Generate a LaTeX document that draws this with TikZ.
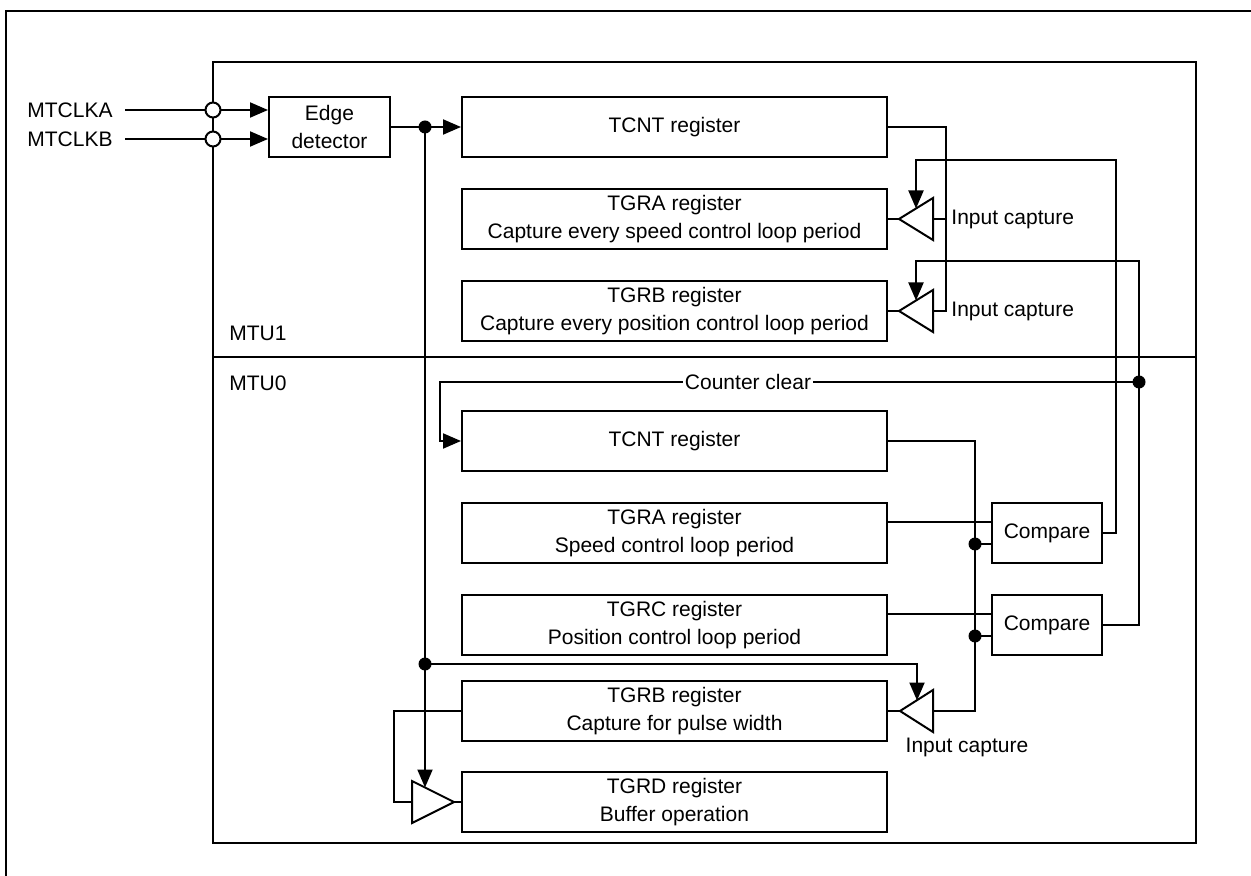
\documentclass[tikz,border=0pt]{standalone}
\usepackage{fontspec}
\setmainfont{Liberation Sans}
\usetikzlibrary{arrows.meta}
\usetikzlibrary{positioning}

\tikzset{
  sig/.style={line width=1pt},
  arr/.style={sig, -{Triangle[length=9pt,width=7.5pt]}},
  reg/.style={draw, sig, minimum width=212.5pt, minimum height=30pt, inner sep=0pt, align=center},
  cmp/.style={reg, minimum width=55pt},
  jdot/.style={circle, fill, inner sep=0pt, minimum size=6.5pt},
  port/.style={circle, draw, sig, fill=white, inner sep=0pt, minimum size=7.5pt},
  lbl/.style={inner sep=0pt},
  amp/.pic={\draw[sig] (0,0) -- (#1,-21) -- (#1,21) -- cycle;}
}

\begin{document}
\begin{tikzpicture}[x=0.5pt, y=-0.5pt, font=\fontsize{10.5pt}{14pt}\selectfont]
  \useasboundingbox (0,0) rectangle (1251,876);
  \draw[line width=1.3pt] (1251,11) -- (6,11) -- (6,876);
  \draw[sig] (213,62) rectangle (1196,843);
  \draw[sig] (213,357) -- (1196,357);
  \node (mtu1) [lbl, anchor=west] at (229,333) {MTU1};
  \node (mtu0) [lbl, anchor=west] at (229,383) {MTU0};

  \node (clka) [lbl, inner xsep=6pt, anchor=east] at (125,110) {MTCLKA};
  \node (clkb) [lbl, inner xsep=6pt, anchor=east] at (125,139) {MTCLKB};
  \node (edge) [reg, minimum width=60.5pt] at (329.5,127) {Edge\\detector};

  % MTU1
  \node (tcnt1) [reg] at (674.5,127) {TCNT register};
  \node (tgra1) [reg] at (674.5,219) {TGRA register\\Capture every speed control loop period};
  \node (tgrb1) [reg] at (674.5,311) {TGRB register\\Capture every position control loop period};

  % MTU0
  \node (tcnt0) [reg] at (674.5,441) {TCNT register};
  \node (tgra0) [reg] at (674.5,533) {TGRA register\\Speed control loop period};
  \node (tgrc0) [reg] at (674.5,625) {TGRC register\\Position control loop period};
  \node (tgrb0) [reg] at (674.5,711) {TGRB register\\Capture for pulse width};
  \node (tgrd0) [reg] at (674.5,802) {TGRD register\\Buffer operation};
  \node (cmpa) [cmp] at (1047,533) {Compare};
  \node (cmpc) [cmp] at (1047,625) {Compare};

  \coordinate (t1tip) at (899,219);  \coordinate (t1base) at (933,219);  \coordinate (t1top) at (916,208.5);
  \coordinate (t2tip) at (899,311);  \coordinate (t2base) at (933,311);  \coordinate (t2top) at (916,300.5);
  \coordinate (t3tip) at (900,711);  \coordinate (t3base) at (933,711);  \coordinate (t3top) at (917,700.5);
  \coordinate (t4base) at (412,802); \coordinate (t4tip) at (454,802);   \coordinate (t4top) at (425,787.5);
  \pic at (t1tip) {amp=34};
  \pic at (t2tip) {amp=34};
  \pic at (t3tip) {amp=33};
  \pic[xscale=-1] at (t4tip) {amp=42};

  \coordinate (j1) at (425,127);
  \coordinate (j2) at (425,664);
  \coordinate (j3) at (1139,382);
  \coordinate (bus1) at (946,311);
  \coordinate (bus0) at (975,711);
  \coordinate (fba) at (1116,160);
  \coordinate (fbc) at (1139,261);
  \coordinate (clr) at (440,382);
  \coordinate (fbb) at (394,711);
  \coordinate (j4) at ([yshift=-5.5pt]cmpa.west -| bus0);
  \coordinate (j5) at ([yshift=-5.5pt]cmpc.west -| bus0);

  % clock inputs
  \draw[arr] (clka.east) -- (clka.east -| edge.west);
  \draw[arr] (clkb.east) -- (clkb.east -| edge.west);
  \draw[arr] (edge) -- (tcnt1);
  \draw[arr] (j1) -- (t4top);
  \draw[arr] (j2) -| (t3top);

  % MTU1 input capture
  \draw[sig] (tcnt1.east) -| (bus1) -- (t2base);
  \draw[sig] (t1base) -- (t1base -| bus1);
  \draw[sig] (tgra1) -- (t1tip);
  \draw[sig] (tgrb1) -- (t2tip);
  \node (icap1) [lbl, anchor=west] at (951,219) {Input capture};
  \node (icap2) [lbl, anchor=west] at (951,311) {Input capture};

  % compare match back to MTU1
  \draw[arr] (cmpa.east) -| (fba) -| (t1top);
  \draw[arr] (cmpc.east) -| (fbc) -| (t2top);
  \draw[arr] (j3) -- (clr) |- (tcnt0.west);
  \node (clrlbl) [lbl, fill=white, inner xsep=1pt] at (748,382) {Counter clear};

  % MTU0
  \draw[sig] (tcnt0.east) -| (bus0) -- (t3base);
  \draw[sig] (j4) -- (j4 -| cmpa.west);
  \draw[sig] (j5) -- (j5 -| cmpc.west);
  \draw[sig] ([yshift=5.5pt]tgra0.east) -- ([yshift=5.5pt]cmpa.west);
  \draw[sig] ([yshift=5.5pt]tgrc0.east) -- ([yshift=5.5pt]cmpc.west);
  \draw[sig] (tgrb0) -- (t3tip);
  \node (icap3) [lbl] at (967,747) {Input capture};
  \draw[sig] (tgrb0.west) -- (fbb) |- (t4base);
  \draw[sig] (t4tip) -- (tgrd0.west);

  \foreach \j in {j1,j2,j3,j4,j5}
    \node[jdot] at (\j) {};
  \node (pa) [port] at (213,110) {};
  \node (pb) [port] at (213,139) {};
\end{tikzpicture}
\end{document}
